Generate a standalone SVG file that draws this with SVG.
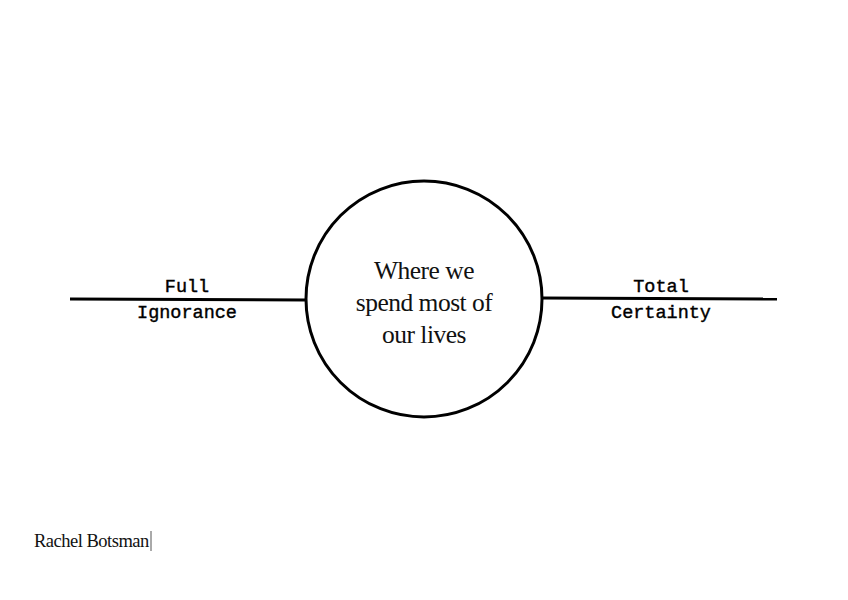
<svg xmlns="http://www.w3.org/2000/svg" width="848" height="600" viewBox="0 0 848 600">
<style>
.ln{stroke:#000;stroke-width:3;fill:none}
.c{font-family:"Liberation Serif",serif;font-size:25.5px;text-anchor:middle;fill:#111;letter-spacing:-0.5px}
.m{font-family:"Liberation Mono",monospace;font-size:18.5px;text-anchor:middle;fill:#000;stroke:#000;stroke-width:0.4}
</style>
<rect width="848" height="600" fill="#fff"/>
<g id="connectors">
<line class="ln" x1="70" y1="299" x2="306" y2="300"/>
<line class="ln" x1="542" y1="298" x2="777" y2="299"/>
</g>
<g id="center">
<circle class="ln" cx="424" cy="299" r="118"/>
<text class="c" x="424" y="279">Where we</text>
<text class="c" x="424" y="311">spend most of</text>
<text class="c" x="424" y="343">our lives</text>
</g>
<g id="left"><text class="m" x="187" y="292">Full</text><text class="m" x="187" y="318">Ignorance</text></g>
<g id="right"><text class="m" x="661" y="292">Total</text><text class="m" x="661" y="318">Certainty</text></g>
<g id="footer">
<text x="34" y="547" font-family="Liberation Serif,serif" font-size="18.5" letter-spacing="-0.5" fill="#111">Rachel Botsman</text>
<line x1="151" y1="531" x2="151" y2="551" stroke="#555" stroke-width="1"/>
</g>
</svg>
